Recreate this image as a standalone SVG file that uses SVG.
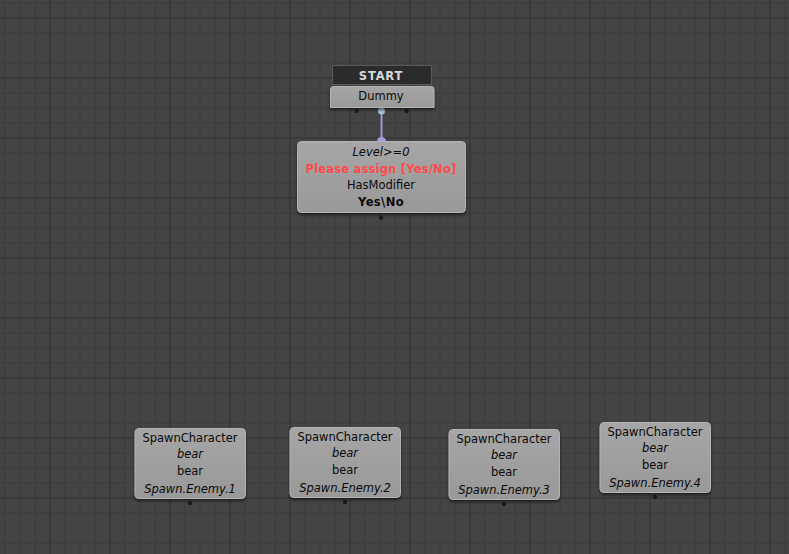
<svg xmlns="http://www.w3.org/2000/svg" width="789" height="554" viewBox="0 0 789 554">
<defs>
  <pattern id="minor" width="15" height="15" patternUnits="userSpaceOnUse" x="4.5" y="2.5">
    <path d="M0 0.5H15M0.5 0V15" stroke="#3c3c3c" stroke-width="1" fill="none"/>
  </pattern>
  <pattern id="major" width="60" height="60" patternUnits="userSpaceOnUse" x="49.5" y="17.5">
    <path d="M0 0.5H60M0.5 0V60" stroke="#343434" stroke-width="1" fill="none"/>
  </pattern>
  <filter id="sh" x="-10%" y="-10%" width="120%" height="130%">
    <feDropShadow dx="0" dy="2" stdDeviation="1.5" flood-color="#000" flood-opacity="0.55"/>
  </filter>
  <linearGradient id="nodeg" x1="0" y1="0" x2="0" y2="1">
    <stop offset="0" stop-color="#a6a6a6"/>
    <stop offset="1" stop-color="#999999"/>
  </linearGradient>
</defs>
<style>
  .node { fill: url(#nodeg); stroke: #b4b4b4; stroke-width: 1; filter: url(#sh); }
  .t { font-family: "DejaVu Sans", "Liberation Sans", sans-serif; font-size: 11.5px; fill: #0a0a0a; text-anchor: middle; dominant-baseline: central; }
  .i { font-style: italic; }
  .b { font-weight: bold; letter-spacing: 0.4px; }
  .red { fill: #ff4a4a; letter-spacing: 0.2px; }
  .dot { fill: #1a1a1a; }
</style>
<rect width="789" height="554" fill="#444444"/>
<rect width="789" height="554" fill="url(#minor)"/>
<rect width="789" height="554" fill="url(#major)"/>

<g id="connectors">
  <line x1="381.5" y1="111" x2="381.5" y2="140" stroke="#9c9cd6" stroke-width="2"/>
  <circle cx="381.5" cy="111" r="3.5" fill="#a8c0dc"/>
  <path d="M377 141.5 A4.5 4.5 0 0 1 386 141.5 Z" fill="#a0a0e0"/>
</g>

<g id="start">
  <rect x="332.5" y="65.5" width="99" height="19" fill="#2b2b2b" stroke="#5a5a5a"/>
  <text class="t b" x="381" y="75.5" style="fill:#d8d8d8;letter-spacing:0.8px">START</text>
</g>

<g id="dummy">
  <path class="node" d="M330.5 107.5V89.5Q330.5 86.5 333.5 86.5H431Q434 86.5 434 89.5V107.5Z"/>
  <text class="t" x="381" y="95.5">Dummy</text>
  <circle class="dot" cx="356.5" cy="111" r="2.2"/>
  <circle class="dot" cx="406.5" cy="111" r="2.2"/>
</g>

<g id="condition">
  <rect class="node" x="297.5" y="141.5" width="168" height="71" rx="4"/>
  <text class="t i" x="381" y="151.5">Level&gt;=0</text>
  <text class="t b red" x="381" y="168.5">Please assign [Yes/No]</text>
  <text class="t" x="381" y="185">HasModifier</text>
  <text class="t b" x="381" y="201.5">Yes\No</text>
  <circle class="dot" cx="381" cy="217.5" r="2.2"/>
</g>

<g id="spawn1">
  <rect class="node" x="135" y="428.5" width="110.5" height="70" rx="4"/>
  <text class="t" x="190" y="437.5">SpawnCharacter</text>
  <text class="t i" x="190" y="454">bear</text>
  <text class="t" x="190" y="471">bear</text>
  <text class="t i" x="190" y="488.5">Spawn.Enemy.1</text>
  <circle class="dot" cx="190" cy="503" r="2.2"/>
</g>

<g id="spawn2">
  <rect class="node" x="290" y="427.5" width="110.5" height="70" rx="4"/>
  <text class="t" x="345" y="436.5">SpawnCharacter</text>
  <text class="t i" x="345" y="453">bear</text>
  <text class="t" x="345" y="470">bear</text>
  <text class="t i" x="345" y="487.5">Spawn.Enemy.2</text>
  <circle class="dot" cx="345" cy="502" r="2.2"/>
</g>

<g id="spawn3">
  <rect class="node" x="449" y="429.5" width="110.5" height="70" rx="4"/>
  <text class="t" x="504" y="438.5">SpawnCharacter</text>
  <text class="t i" x="504" y="455">bear</text>
  <text class="t" x="504" y="472">bear</text>
  <text class="t i" x="504" y="489.5">Spawn.Enemy.3</text>
  <circle class="dot" cx="504" cy="504" r="2.2"/>
</g>

<g id="spawn4">
  <rect class="node" x="600" y="422.5" width="110.5" height="70" rx="4"/>
  <text class="t" x="655" y="431.5">SpawnCharacter</text>
  <text class="t i" x="655" y="448">bear</text>
  <text class="t" x="655" y="465">bear</text>
  <text class="t i" x="655" y="482.5">Spawn.Enemy.4</text>
  <circle class="dot" cx="655" cy="497" r="2.2"/>
</g>
</svg>
